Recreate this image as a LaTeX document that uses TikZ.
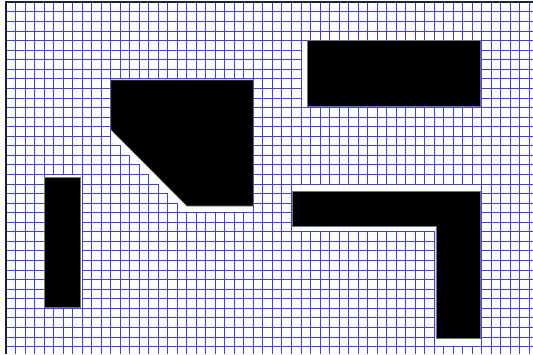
\documentclass[tikz,border=0pt]{standalone}
\usepackage{xcolor}
\usepackage{tikz}
\definecolor{gridblue}{RGB}{60,60,255}
\definecolor{framenavy}{RGB}{30,30,50}
\tikzset{
  % Griglia della mappa
  gridline/.style={gridblue,line width=1bp},
  % Celle occupate (senza griglia interna)
  occupied/.style={fill=white,draw=gridblue,line width=1bp},
  % Ostacoli
  obstacle/.style={fill=black,draw=black!55,line width=0.7bp},
  frameline/.style={framenavy,line width=2bp}
}

\begin{document}
\begin{tikzpicture}[x=9.51bp,y=-9.56bp]
        \useasboundingbox (-0.652,-0.251) rectangle (55.395,36.78);
        \foreach \i in {0,...,55}{
          \draw[gridline] (\i,0) -- (\i,36.78);
        }
        \foreach \j in {0,...,36}{
          \draw[gridline] (0,\j) -- (55.395,\j);
        }
        \draw[occupied] (31,4) rectangle (50,11);
        \draw[occupied] (11,8) -- (26,8) -- (26,22) -- (18,22) -- (18,21) -- (17,21)
          -- (17,20) -- (16,20) -- (16,19) -- (15,19) -- (15,18) -- (14,18) -- (14,17)
          -- (13,17) -- (13,16) -- (12,16) -- (12,15) -- (11,15) -- cycle;
        \draw[occupied] (4,18) rectangle (8,32);
        \draw[occupied] (30,19) -- (50,19) -- (50,36) -- (45,36) -- (45,24) -- (30,24) -- cycle;
        \draw[obstacle] (31.7,3.98) rectangle (49.85,10.87);
        \draw[obstacle] (11,8.12) -- (25.98,8.12) -- (25.98,21.3) -- (19,21.3) -- (11,13.3) -- cycle;
        \draw[obstacle] (4.05,18.34) rectangle (7.76,31.94);
        \draw[obstacle] (30.08,19.73) -- (49.89,19.73) -- (49.89,35.14) -- (45.19,35.14)
          -- (45.19,23.46) -- (30.08,23.46) -- cycle;
        \draw[frameline] (0,36.78) -- (0,0) -- (55.395,0);
      \end{tikzpicture}
\end{document}
